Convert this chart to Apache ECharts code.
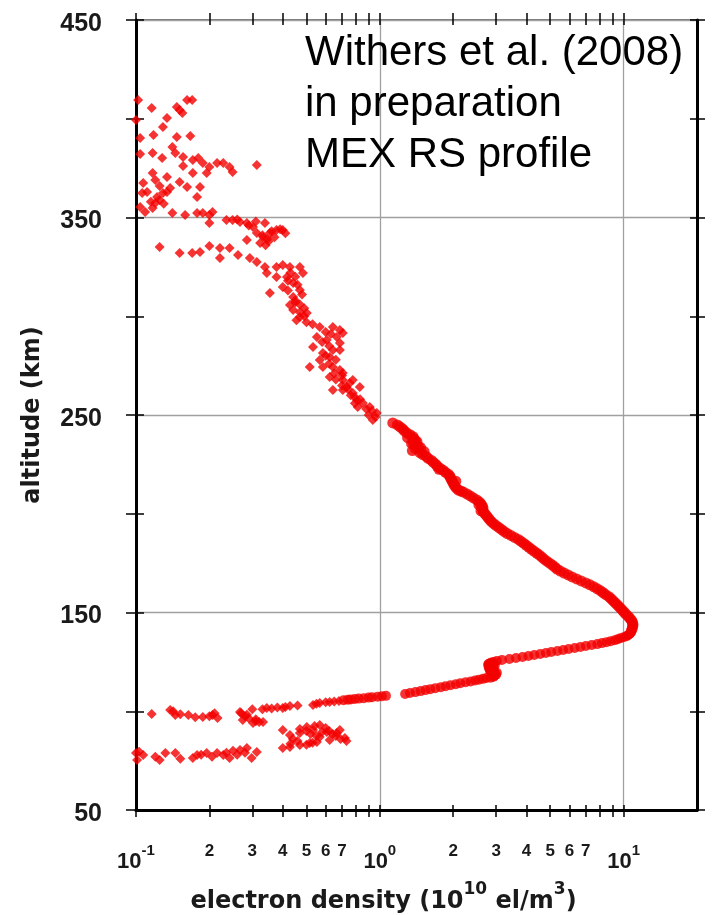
<!DOCTYPE html>
<html><head><meta charset="utf-8">
<script src="https://cdn.jsdelivr.net/npm/echarts@6/dist/echarts.min.js"></script>
<style>html,body{margin:0;padding:0;background:#fff}#c{width:713px;height:915px}</style>
</head><body><div id="c"></div>
<script>
// ---------- axis definitions ----------
const X_MIN = 0.1, X_MAX = 20;
const Y_MIN = 50, Y_MAX = 450;
const majorTickValues = [0.1, 1, 10];
const majorTickExponents = ['-1', '0', '1'];
const minorLabelValues = [0.2, 0.3, 0.4, 0.5, 0.6, 0.7, 2, 3, 4, 5, 6, 7];
const minorLabelTexts = ['2', '3', '4', '5', '6', '7', '2', '3', '4', '5', '6', '7'];
const xTickValues = [0.1,0.2,0.3,0.4,0.5,0.6,0.7,0.8,0.9,1,2,3,4,5,6,7,8,9,10];
const annotationLines = ['Withers et al. (2008)', 'in preparation', 'MEX RS profile'];

// ---------- data: [electron density (1e10 el/m3), altitude (km)] ----------
const topPoints = [[0.102,409.5],[0.100,399.4],[0.116,405.4],[0.134,400.4],[0.129,395.8],[0.147,405.9],[0.155,402.9],[0.162,409.5],[0.170,409.5],[0.151,404.4],[0.104,390.3],[0.118,391.8],[0.147,390.8],[0.167,391.3],[0.141,385.7],[0.104,382.2],[0.117,382.7],[0.128,380.1],[0.145,382.7],[0.156,380.6],[0.171,379.1],[0.180,380.1],[0.156,376.1],[0.188,377.6],[0.200,375.6],[0.215,377.6],[0.228,377.6],[0.242,375.6],[0.249,373.0],[0.195,372.5],[0.171,372.5],[0.313,376.6],[0.117,372.5],[0.134,370.5],[0.107,367.5],[0.151,368.0],[0.162,365.4],[0.183,365.4],[0.138,364.9],[0.111,362.9],[0.106,362.4],[0.178,360.4],[0.122,360.4],[0.125,358.9],[0.129,362.4],[0.134,362.9],[0.120,357.3],[0.117,354.8],[0.104,355.3],[0.109,352.8],[0.141,352.3],[0.159,351.3],[0.178,352.3],[0.188,352.3],[0.200,351.3],[0.206,352.8],[0.200,347.2],[0.235,348.7],[0.249,348.7],[0.267,347.7],[0.285,347.2],[0.302,345.2],[0.338,347.2],[0.313,342.2],[0.332,340.1],[0.354,342.2],[0.377,343.7],[0.400,343.7],[0.323,337.1],[0.285,338.6],[0.125,335.1],[0.151,332.0],[0.170,332.0],[0.183,332.5],[0.200,335.6],[0.221,334.6],[0.242,334.6],[0.221,329.5],[0.262,331.0],[0.293,329.5],[0.313,327.5],[0.338,324.9],[0.377,324.9],[0.400,325.9],[0.428,324.9],[0.470,324.9],[0.484,321.9],[0.344,321.9],[0.377,319.9],[0.416,319.9],[0.441,316.8],[0.400,314.8],[0.354,311.8],[0.470,313.3],[0.441,309.7],[0.33,341],[0.345,339],[0.36,343],[0.37,340],[0.35,338],[0.39,344],[0.41,342],[0.34,336],[0.26,349],[0.29,346],[0.31,348],[0.42,318],[0.46,316],[0.45,320],[0.43,322],[0.42,313],[0.45,308],[0.47,306],[0.48,311],[0.12,369],[0.125,366],[0.115,358],[0.13,357]];

const midPoints = [[0.441,303.2],[0.470,299.6],[0.502,301.6],[0.428,305.7],[0.567,294.6],[0.642,294.6],[0.686,293.0],[0.552,289.5],[0.606,288.0],[0.666,289.5],[0.532,284.4],[0.584,281.4],[0.642,282.9],[0.686,286.5],[0.567,277.8],[0.623,279.4],[0.516,274.3],[0.584,274.3],[0.642,274.3],[0.686,272.8],[0.623,269.2],[0.705,267.7],[0.753,266.2],[0.642,262.7],[0.705,262.7],[0.775,261.1],[0.805,257.6],[0.812,254.1],[0.705,291.5],[0.686,282.9],[0.705,271.3],[0.775,267.7],[0.828,264.2],[0.732,264.2],[0.790,259.1],[0.852,256.1],[0.910,254.1],[0.972,251.0],[0.936,247.5],[0.50,297],[0.53,296],[0.60,292],[0.63,291],[0.58,287],[0.62,285],[0.60,280],[0.66,278],[0.62,276],[0.65,271],[0.70,270],[0.66,268],[0.70,265],[0.74,263],[0.76,260],[0.83,258],[0.79,256],[0.88,253],[0.93,252],[0.96,249],[0.90,250],[0.49,300],[0.455,298],[0.47,302],[0.45,307],[0.49,304]];

const upperProfile = [[1.13,246],[1.18,245],[1.21,244],[1.24,243],[1.26,242],[1.29,241],[1.33,240],[1.37,239],[1.38,238],[1.40,237],[1.37,236],[1.41,235],[1.44,234],[1.40,233],[1.36,232],[1.46,231],[1.50,230],[1.55,229],[1.58,228],[1.63,227],[1.66,226],[1.70,225],[1.72,224],[1.77,223],[1.82,222],[1.86,221],[1.91,220],[1.94,219],[1.95,218],[1.97,217],[1.99,216],[2.01,215],[2.03,214],[2.06,213],[2.10,212],[2.20,211],[2.28,210],[2.35,209],[2.42,208],[2.50,207],[2.56,206],[2.60,205],[2.63,204],[2.65,203],[2.64,202],[2.66,201],[1.42,236.5],[1.30,238.5],[1.35,235.5],[1.47,233.5],[1.52,231.5],[1.75,222.5],[2.05,216.5],[2.15,211.5],[2.62,203.5],[2.60,201.5],[2.55,204.5],
[2.70,200],[2.74,199],[2.78,198],[2.82,197],[2.87,196],[2.93,195],[3.00,194],[3.08,193],[3.16,192],[3.24,191],[3.33,190],[3.45,189],[3.57,188],[3.70,187],[3.80,186],[3.90,185],[3.99,184],[4.09,183],[4.19,182],[4.30,181],[4.41,180],[4.52,179],[4.62,178],[4.72,177],[4.84,176],[4.97,175],[5.10,174],[5.22,173],[5.33,172],[5.50,171],[5.70,170],[5.92,169],[6.15,168],[6.42,167],[6.70,166],[7.00,165],[7.28,164],[7.55,163],[7.80,162],[8.05,161],[8.25,160],[8.45,159],[8.70,158],[8.88,157],[9.05,156],[9.22,155],[9.40,154],[9.57,153],[9.75,152],[9.92,151],[10.08,150],[10.25,149],[10.45,148],[10.62,147],[10.78,146],[10.88,145],[10.92,144],[10.90,143],[10.85,142],[10.78,141]];

const lowerProfile = [[10.72,140],[10.65,139.5],[10.55,139],[10.42,138.5],[10.28,138],[10.0,137.5],[9.7,137],[9.45,136.5],[9.2,136],[8.85,135.5],[8.5,135],[8.15,134.5],[7.8,134],[7.4,133.5],[7.0,133],[6.65,132.5],[6.3,132],[5.95,131.5],[5.65,131],[5.35,130.5],[5.05,130],[4.8,129.5],[4.55,129],[4.3,128.5],[4.07,128],[3.85,127.5],[3.62,127],[3.4,126.5],[3.17,126],[3.02,125.5],[2.92,125],
[2.85,124.5],[2.80,124],[2.78,123.5],[2.80,123],[2.82,122.5],[2.80,122],[2.82,121.5],[2.85,121],[2.83,120.5],[2.86,120],[2.88,119.5],[2.90,119],[2.92,118.5],[2.95,118],[2.93,117.5],[2.85,117],[2.92,124],[2.92,122],[2.95,120],[3.0,118.5],[2.96,123],[3.02,119.5],
[2.74,116.8],[2.65,116.4],[2.55,116.0],[2.46,115.6],[2.36,115.1],[2.25,114.7],[2.14,114.2],[2.05,113.7],[1.95,113.2],[1.86,112.7],[1.78,112.2],[1.69,111.7],[1.61,111.2],[1.54,110.7],[1.47,110.2],[1.40,109.7],[1.33,109.2],[1.27,108.7],
[1.06,107.8],[1.02,107.6],[0.98,107.4],[0.93,107.1],[0.90,106.9],[0.86,106.6],[0.82,106.4],[0.79,106.2],[0.76,106.0],[0.74,105.8],[0.71,105.6]];

const lowPoints = [[0.68,105.2],[0.65,104.9],[0.623,104.7],[0.60,104.5],[0.567,104.2],[0.55,103.8],[0.532,103.2],[0.46,102.9],[0.428,102.7],[0.41,102.2],[0.40,101.6],[0.38,101.9],[0.36,101.4],[0.344,101.6],[0.33,101.0],
[0.267,99.6],[0.274,95.6],[0.302,94.1],[0.332,94.6],[0.28,97.5],[0.29,96.5],[0.31,95.0],[0.32,94.5],[0.27,99.0],[0.30,101.0],[0.285,98.2],[0.31,96.0],
[0.206,98.1],[0.216,96.6],[0.188,97.1],[0.164,98.1],[0.145,98.1],[0.138,100.6],[0.116,98.6],[0.152,98.5],[0.142,100.0],[0.20,97.5],[0.21,99.0],[0.175,97.0],
[0.400,90.5],[0.428,88.0],[0.470,89.0],[0.502,92.0],[0.532,90.5],[0.567,93.0],[0.567,87.0],[0.606,89.5],[0.623,85.4],[0.666,89.0],[0.686,90.5],[0.719,86.5],[0.552,84.4],[0.516,83.9],[0.470,82.9],[0.428,81.9],[0.400,81.4],
[0.47,91],[0.50,90],[0.52,88.5],[0.55,87.5],[0.54,92.5],[0.60,91.5],[0.64,88.5],[0.66,87.5],[0.69,86],[0.73,85],[0.44,86],[0.46,85],[0.43,83.5],[0.53,84],[0.50,83],[0.58,89.5],[0.62,90],
[0.100,78.9],[0.101,75.3],[0.107,77.8],[0.125,75.3],[0.132,78.9],[0.145,78.9],[0.171,76.3],[0.178,77.8],[0.195,78.9],[0.215,78.9],[0.228,77.8],[0.242,76.3],[0.267,80.4],[0.285,81.4],[0.298,76.3],[0.313,79.4],
[0.152,76],[0.185,78],[0.205,77],[0.235,79],[0.26,78],[0.28,79],[0.25,80],[0.12,77],[0.103,79.5]];

// ---------- chart ----------
const LOG_MIN = Math.log10(X_MIN), LOG_MAX = Math.log10(X_MAX);
const BOLD = 'Liberation Sans';
const TITLE_FONT = 'DejaVu Sans';
const RED = '#f20000';

const chart = echarts.init(document.getElementById('c'), null, {renderer: 'canvas'});

function majorLabel(v) {
  for (let i = 0; i < majorTickValues.length; i++) {
    if (Math.abs(Math.log10(v) - Math.log10(majorTickValues[i])) < 1e-6) {
      return '{b|10}{s|' + majorTickExponents[i] + '}';
    }
  }
  return '';
}
function minorLabel(v) {
  for (let i = 0; i < minorLabelValues.length; i++) {
    if (Math.abs(v - Math.log10(minorLabelValues[i])) < 1e-6) return minorLabelTexts[i];
  }
  return '';
}

const tickStyle = {color: '#000', width: 1.5};

const option = {
  backgroundColor: '#fff',
  animation: false,
  grid: {left: 136, right: 16, top: 20, bottom: 105, show: true, borderColor: '#4a4a4a', borderWidth: 1.5, outerBoundsMode: 'none'},
  xAxis: [
    {
      type: 'log', logBase: 10, min: X_MIN, max: X_MAX, position: 'bottom',
      axisLine: {show: true, onZero: false, lineStyle: {color: '#000', width: 3}},
      axisTick: {show: false},
      minorTick: {show: false},
      splitLine: {show: true, lineStyle: {color: '#a0a0a0', width: 1.3}},
      axisLabel: {
        margin: 33, formatter: majorLabel, showMaxLabel: false,
        rich: {
          b: {fontFamily: BOLD, fontWeight: 'bold', fontSize: 22, lineHeight: 38, color: '#1a1a1a'},
          s: {fontFamily: BOLD, fontWeight: 'bold', fontSize: 15, lineHeight: 15, verticalAlign: 'top', color: '#1a1a1a'}
        }
      },
      name: '{t|electron density (10}{s|10}{t| el/m}{s|3}{t|)}',
      nameLocation: 'middle', nameGap: 71,
      nameTextStyle: {
        padding: [0, 66, 0, 0],
        rich: {
          t: {fontFamily: TITLE_FONT, fontWeight: 'bold', fontSize: 24, lineHeight: 42, color: '#1a1a1a'},
          s: {fontFamily: TITLE_FONT, fontWeight: 'bold', fontSize: 17, lineHeight: 17, verticalAlign: 'top', color: '#1a1a1a'}
        }
      }
    },
    {
      type: 'value', min: LOG_MIN, max: LOG_MAX, position: 'bottom', offset: -5,
      axisLine: {show: false, onZero: false},
      axisTick: {show: true, inside: false, length: 12, customValues: xTickValues.map(Math.log10), lineStyle: tickStyle},
      axisLabel: {show: true, margin: 38, customValues: minorLabelValues.map(Math.log10), formatter: minorLabel,
        fontFamily: BOLD, fontWeight: 'bold', fontSize: 17, lineHeight: 17, color: '#1a1a1a'},
      splitLine: {show: false}
    },
    {
      type: 'value', min: LOG_MIN, max: LOG_MAX, position: 'top', offset: -5,
      axisLine: {show: false, onZero: false},
      axisTick: {show: true, inside: false, length: 12, customValues: xTickValues.map(Math.log10), lineStyle: tickStyle},
      axisLabel: {show: false},
      splitLine: {show: false}
    }
  ],
  yAxis: [
    {
      type: 'value', min: Y_MIN, max: Y_MAX, interval: 100, position: 'left',
      axisLine: {show: true, onZero: false, lineStyle: {color: '#000', width: 3}},
      axisTick: {show: false},
      splitLine: {show: true, lineStyle: {color: '#a0a0a0', width: 1.3}},
      axisLabel: {margin: 34, formatter: v => '{a|' + v + '}',
        rich: {a: {fontFamily: BOLD, fontWeight: 'bold', fontSize: 25, color: '#1a1a1a', padding: [8, 0, 0, 0]}}},
      name: 'altitude (km)', nameLocation: 'middle', nameGap: 89,
      nameTextStyle: {fontFamily: TITLE_FONT, fontWeight: 'bold', fontSize: 24, lineHeight: 28, color: '#1a1a1a'}
    },
    {
      type: 'value', min: Y_MIN, max: Y_MAX, interval: 50, position: 'left', offset: -8,
      axisLine: {show: false, onZero: false},
      axisTick: {show: true, inside: false, length: 18, lineStyle: tickStyle},
      axisLabel: {show: false}, splitLine: {show: false}
    },
    {
      type: 'value', min: Y_MIN, max: Y_MAX, interval: 50, position: 'right', offset: -7,
      axisLine: {show: false, onZero: false},
      axisTick: {show: true, inside: false, length: 15, lineStyle: tickStyle},
      axisLabel: {show: false}, splitLine: {show: false}
    },
    {
      type: 'value', min: Y_MIN, max: Y_MAX, interval: 50, position: 'right',
      axisLine: {show: true, onZero: false, lineStyle: {color: '#000', width: 3}},
      axisTick: {show: false}, axisLabel: {show: false}, splitLine: {show: false}
    }
  ],
  series: [
    {type: 'scatter', name: 'top', data: topPoints, symbol: 'diamond', symbolSize: 10, itemStyle: {color: RED}},
    {type: 'scatter', name: 'mid', data: midPoints, symbol: 'diamond', symbolSize: 10, itemStyle: {color: RED}},
    {type: 'scatter', name: 'upper', data: upperProfile, symbol: 'circle', symbolSize: 11, itemStyle: {color: RED}},
    {type: 'scatter', name: 'lower', data: lowerProfile, symbol: 'circle', symbolSize: 10, itemStyle: {color: RED}},
    {type: 'scatter', name: 'low', data: lowPoints, symbol: 'diamond', symbolSize: 10, itemStyle: {color: RED}}
  ],
  graphic: [
    {type: 'text', left: 305, top: 28, z: 100,
     style: {text: annotationLines.join('\n'), fontFamily: 'Liberation Sans', fontSize: 42, lineHeight: 51, fill: '#000'}}
  ]
};
chart.setOption(option);
</script>
</body></html>
